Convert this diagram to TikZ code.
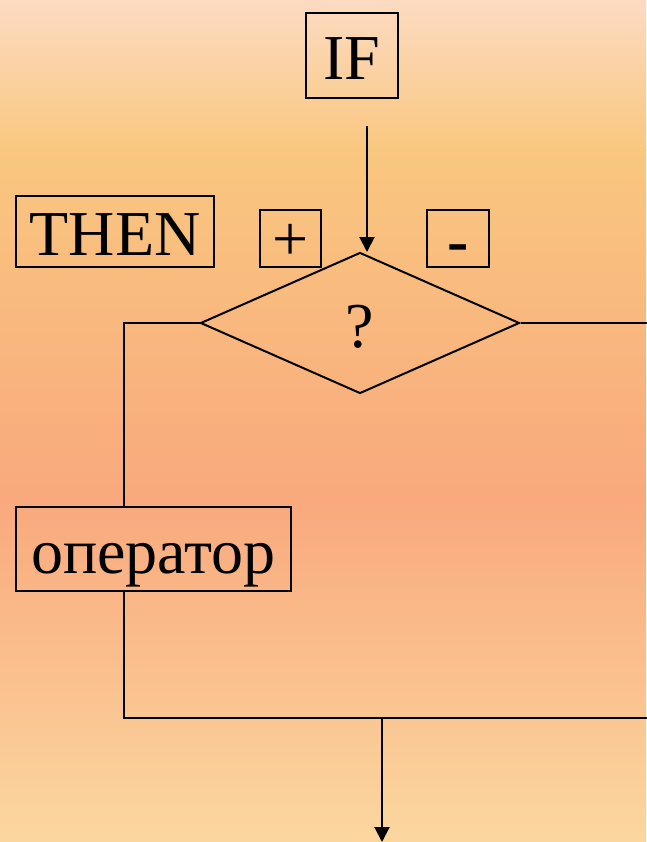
\documentclass[tikz,border=0pt]{standalone}
\usepackage{fontspec}
\setmainfont{Liberation Serif}
\usetikzlibrary{shapes.geometric,arrows.meta}
\definecolor{bgA}{HTML}{FCDBC2}
\definecolor{bgB}{HTML}{F9C77F}
\definecolor{bgC}{HTML}{F9A97D}
\definecolor{bgD}{HTML}{FBD79F}
\tikzset{
  box/.style={draw, line width=2pt, inner sep=0pt, text height=48pt, text depth=0pt, font=\fontsize{64}{70}\selectfont},
  smallbox/.style={box, text height=44pt, font=\fontsize{64}{70}\selectfont},
  decision/.style={draw, diamond, line width=2pt, inner sep=0pt, text height=48pt, text depth=0pt, font=\fontsize{64}{70}\selectfont},
  conn/.style={line width=2pt},
  arr/.style={conn, -{Triangle[length=15pt,width=15pt]}}
}
\begin{document}
\begin{tikzpicture}[x=1pt,y=-1pt]
\useasboundingbox (0,0) rectangle (646,842);
\shade[top color=bgA, bottom color=bgB] (0,0) rectangle (646,150.5);
\shade[top color=bgB, bottom color=bgC] (0,150) rectangle (646,500.5);
\shade[top color=bgC, bottom color=bgD] (0,500) rectangle (646,842);

\node[box, minimum width=92pt, minimum height=85pt] (if) at (352,55.5) {IF};
\node[box, minimum width=198pt, minimum height=71pt] (then) at (115,231.5) {THEN};
\node[smallbox, minimum width=61pt, minimum height=57pt] (plus) at (290.5,238.5) {+};
\node[smallbox, text height=48pt, minimum width=62pt, minimum height=57pt] (minus) at (458,238.5) {\textbf{-}};
\node[decision, minimum width=319pt, minimum height=141pt] (d) at (360,323) {?};
\node[box, minimum width=275pt, minimum height=84pt] (op) at (153.5,549) {оператор};

\coordinate (a0) at (367,126);
\coordinate (a1) at (367,252);
\coordinate (lt) at (124,323);
\coordinate (lb) at (124,718);
\coordinate (rt) at (652,323);
\coordinate (rb) at (652,718);
\coordinate (m) at (382,718);
\coordinate (e) at (382,842);

\draw[arr] (a0) -- (a1);
\draw[conn] (d.west) -- (lt) -- (lt |- op.north);
\draw[conn] (d.east) -- (rt) -- (rb) -- (lb) -- (lb |- op.south);
\draw[arr] (m) -- (e);
\end{tikzpicture}
\end{document}
